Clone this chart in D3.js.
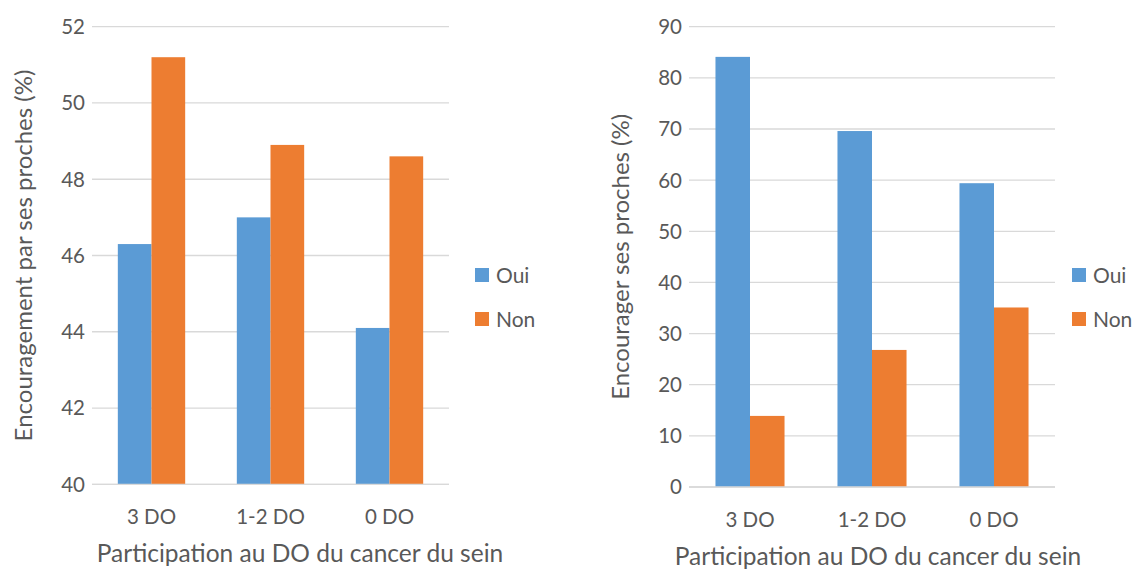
<!DOCTYPE html>
<html><head><meta charset="utf-8">
<script src="https://cdn.jsdelivr.net/npm/d3@7"></script>
<style>body{margin:0;background:#fff}svg{display:block}text{font-family:Lato,"Open Sans",sans-serif;fill:#595959}</style>
</head><body>
<svg id="c" width="1132" height="569"></svg>
<script>
const categories = ["3 DO", "1-2 DO", "0 DO"];
const seriesNames = ["Oui", "Non"];
const leftOui = [46.3, 47.0, 44.1];
const leftNon = [51.2, 48.9, 48.6];
const rightOui = [84.1, 69.6, 59.4];
const rightNon = [13.9, 26.8, 35.1];
const leftTicks = [40, 42, 44, 46, 48, 50, 52];
const rightTicks = [0, 10, 20, 30, 40, 50, 60, 70, 80, 90];
const colors = ["#5b9bd5", "#ed7d31"];

const svg = d3.select("#c");

function panel(o) {
  const g = svg.append("g");
  const x = d3.scaleBand().domain(categories).range([o.x0, o.x1]).paddingInner(0).paddingOuter(0);
  const y = d3.scaleLinear().domain(o.domain).range([o.yb, o.yt]);
  g.selectAll("line.grid").data(o.ticks).join("line")
    .attr("x1", o.x0).attr("x2", o.x1)
    .attr("y1", d => y(d)).attr("y2", d => y(d))
    .attr("stroke", "#d9d9d9").attr("stroke-width", 1.3);
  g.selectAll("text.yt").data(o.ticks).join("text")
    .attr("x", o.x0 - 7).attr("y", d => y(d)).attr("dy", "0.36em")
    .attr("text-anchor", "end").attr("font-size", 20.5).text(d => d);
  const bw = x.bandwidth() * 0.283;
  const sub = d3.scaleBand().domain(seriesNames).range([-bw, bw]);
  const data = [o.oui, o.non];
  data.forEach((vals, si) => {
    g.selectAll("rect.s" + si).data(vals).join("rect")
      .attr("x", (d, i) => x(categories[i]) + x.bandwidth() / 2 + sub(seriesNames[si]))
      .attr("width", sub.bandwidth())
      .attr("y", d => y(d)).attr("height", d => y(o.domain[0]) - y(d))
      .attr("fill", colors[si]);
  });
  g.append("line").attr("x1", o.x0).attr("x2", o.x1)
    .attr("y1", y(o.domain[0])).attr("y2", y(o.domain[0]))
    .attr("stroke", "#d9d9d9").attr("stroke-width", 1.3);
  g.selectAll("text.xl").data(categories).join("text")
    .attr("x", d => x(d) + x.bandwidth() / 2).attr("y", o.yb + 40)
    .attr("text-anchor", "middle").attr("font-size", 20.5).text(d => d);
  g.append("text").attr("x", o.xtx).attr("y", o.yb + 78)
    .attr("text-anchor", "middle").attr("font-size", 24.5).text("Participation au DO du cancer du sein");
  g.append("text").attr("transform", `translate(${o.ytx},${(o.yt + o.yb) / 2}) rotate(-90)`)
    .attr("text-anchor", "middle").attr("font-size", 24).text(o.ytitle);
  seriesNames.forEach((s, i) => {
    g.append("rect").attr("x", o.lx).attr("y", o.ly + i * 44).attr("width", 14).attr("height", 14).attr("fill", colors[i]);
    g.append("text").attr("x", o.lx + 21).attr("y", o.ly + 7 + i * 44).attr("dy", "0.36em")
      .attr("font-size", 21).text(s);
  });
}

panel({x0: 92, x1: 449, yt: 26.7, yb: 484.3, domain: [40, 52], ticks: leftTicks,
  oui: leftOui, non: leftNon, ytitle: "Encouragement par ses proches (%)", ytx: 32, xtx: 300, lx: 475, ly: 268});
panel({x0: 689, x1: 1055, yt: 26.7, yb: 487, domain: [0, 90], ticks: rightTicks,
  oui: rightOui, non: rightNon, ytitle: "Encourager ses proches (%)", ytx: 629, xtx: 878, lx: 1072, ly: 268});
</script>
</body></html>
